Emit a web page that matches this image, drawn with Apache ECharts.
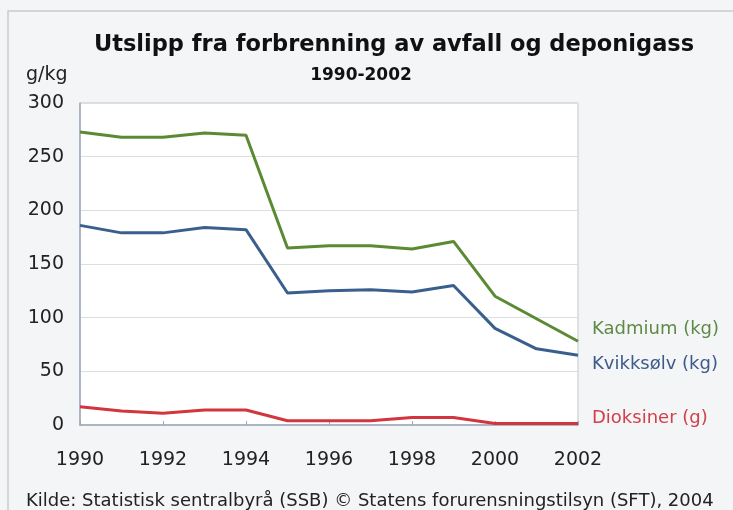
<!DOCTYPE html>
<html><head><meta charset="utf-8">
<script src="https://cdn.jsdelivr.net/npm/echarts@6/dist/echarts.min.js"></script>
<style>html,body{margin:0;padding:0;background:#f4f5f7}#c{width:733px;height:510px}</style>
</head><body><div id="c"></div>
<script>
const years = ['1990','1991','1992','1993','1994','1995','1996','1997','1998','1999','2000','2001','2002'];
const kadmium = [273, 268, 268, 272, 270, 165, 167, 167, 164, 171, 120, 99, 78];
const kvikksolv = [186, 179, 179, 184, 182, 123, 125, 126, 124, 130, 90, 71, 65];
const dioksiner = [17, 13, 11, 14, 14, 4, 4, 4, 7, 7, 1.5, 1.5, 1.5];
const yTicks = [0, 50, 100, 150, 200, 250, 300];
const seriesNames = ['Kadmium (kg)', 'Kvikksølv (kg)', 'Dioksiner (g)'];
const colors = ['#5b8a35', '#3a5f8e', '#d2353d'];
const labelColors = ['#5f8a45', '#3d5a88', '#d2404a'];
const labelOffsets = [[6, -12], [6, 9], [6, -5]];
const font = 'DejaVu Sans, Arial, sans-serif';

const chart = echarts.init(document.getElementById('c'), null, {renderer: 'canvas'});
const mk = (i, data) => ({
  name: seriesNames[i], type: 'line', data, symbol: 'none', smooth: false,
  lineStyle: {color: colors[i], width: 3}, itemStyle: {color: colors[i]},
  endLabel: {show: true, formatter: seriesNames[i], color: labelColors[i], fontFamily: font, fontSize: 18, offset: labelOffsets[i]}
});
chart.setOption({
  backgroundColor: '#f4f5f7',
  animation: false,
  graphic: [{type: 'rect', shape: {x: 8, y: 11, width: 740, height: 520},
    style: {fill: 'none', stroke: '#c8cacd', lineWidth: 1.5}}],
  title: [
    {text: 'Utslipp fra forbrenning av avfall og deponigass', left: 389, top: 29, textAlign: 'center',
     textStyle: {fontFamily: font, fontSize: 22.5, fontWeight: 'bold', color: '#111'}},
    {text: '1990-2002', left: 356, top: 62, textAlign: 'center',
     textStyle: {fontFamily: font, fontSize: 17, fontWeight: 'bold', color: '#111'}},
    {text: 'g/kg', left: 21, top: 61, textStyle: {fontFamily: font, fontSize: 19, fontWeight: 'normal', color: '#222'}},
    {text: 'Kilde: Statistisk sentralbyrå (SSB) © Statens forurensningstilsyn (SFT), 2004', left: 21, top: 487,
     textStyle: {fontFamily: font, fontSize: 18, fontWeight: 'normal', color: '#222'}}
  ],
  grid: {left: 80, top: 103, width: 498, height: 322, show: true, backgroundColor: '#fff',
    borderColor: '#c3c6ca', borderWidth: 1},
  xAxis: {type: 'category', data: years, boundaryGap: false,
    axisLine: {lineStyle: {color: '#9aa8b8', width: 1.5}},
    axisTick: {show: true, inside: true, length: 4, lineStyle: {color: '#9aa8b8'}},
    axisLabel: {interval: 1, color: '#222', fontFamily: font, fontSize: 19, margin: 26},
    splitLine: {show: false}},
  yAxis: {type: 'value', min: 0, max: 300, interval: 50,
    axisLine: {show: true, lineStyle: {color: '#9aa8b8', width: 1.5}},
    axisTick: {show: false},
    axisLabel: {color: '#222', fontFamily: font, fontSize: 19, margin: 16,
      formatter: v => yTicks.includes(v) ? String(v) : ''},
    splitLine: {lineStyle: {color: '#dcdfe2', width: 1}}},
  series: [mk(0, kadmium), mk(1, kvikksolv), mk(2, dioksiner)]
});
</script></body></html>
